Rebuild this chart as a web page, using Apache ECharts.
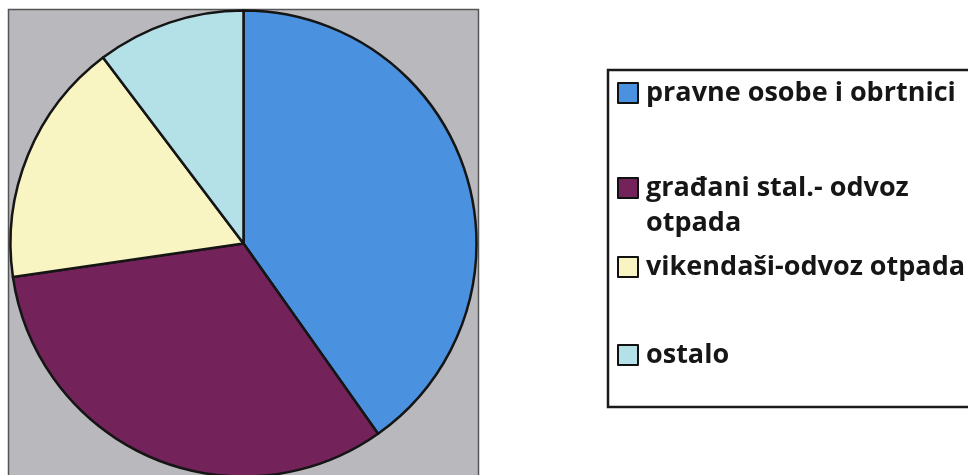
<!DOCTYPE html>
<html><head><meta charset="utf-8">
<script src="https://cdn.jsdelivr.net/npm/echarts@6/dist/echarts.min.js"></script>
<style>html,body{margin:0;padding:0;background:#fff}#c{width:968px;height:475px}</style>
</head><body><div id="c"></div>
<script>
const categories = ['pravne osobe i obrtnici', 'građani stal.- odvoz otpada', 'vikendaši-odvoz otpada', 'ostalo'];
const values = [40.2, 32.5, 17.0, 10.3];
const colors = ['#4a91e0', '#73225a', '#f8f5c2', '#b4e0e8'];

const chart = echarts.init(document.getElementById('c'), null, {renderer: 'canvas'});
const font = {fontFamily: 'Open Sans', fontWeight: 'bold', fontSize: 27, color: '#161616', lineHeight: 35, padding: [0, 0, 0, 3]};
const legendTops = [75.5, 135.5, 249.5, 337.5];
const legends = categories.map((name, i) => ({
  data: [name],
  left: 617,
  top: legendTops[i],
  padding: 0,
  orient: 'vertical',
  icon: 'rect',
  itemWidth: 20,
  itemHeight: 20,
  itemGap: 0,
  selectedMode: false,
  itemStyle: {borderColor: '#111', borderWidth: 2},
  formatter: n => n === 'građani stal.- odvoz otpada' ? ' \ngrađani stal.- odvoz\notpada' : n,
  textStyle: font
}));

chart.setOption({
  animation: false,
  graphic: [
    {type: 'rect', z: -10, shape: {x: 8.5, y: 9.5, width: 470, height: 480}, style: {fill: '#b9b9bd', stroke: '#555', lineWidth: 1.5}},
    {type: 'rect', z: -10, shape: {x: 608, y: 70, width: 380, height: 337}, style: {fill: '#fff', stroke: '#1a1a1a', lineWidth: 2.5}}
  ],
  legend: legends,
  series: [{
    type: 'pie',
    center: [243.5, 243.5],
    radius: 233,
    startAngle: 90,
    clockwise: true,
    label: {show: false},
    labelLine: {show: false},
    emphasis: {disabled: true},
    itemStyle: {borderColor: '#151515', borderWidth: 2.5},
    data: categories.map((c, i) => ({name: c, value: values[i], itemStyle: {color: colors[i]}}))
  }]
});
</script></body></html>
